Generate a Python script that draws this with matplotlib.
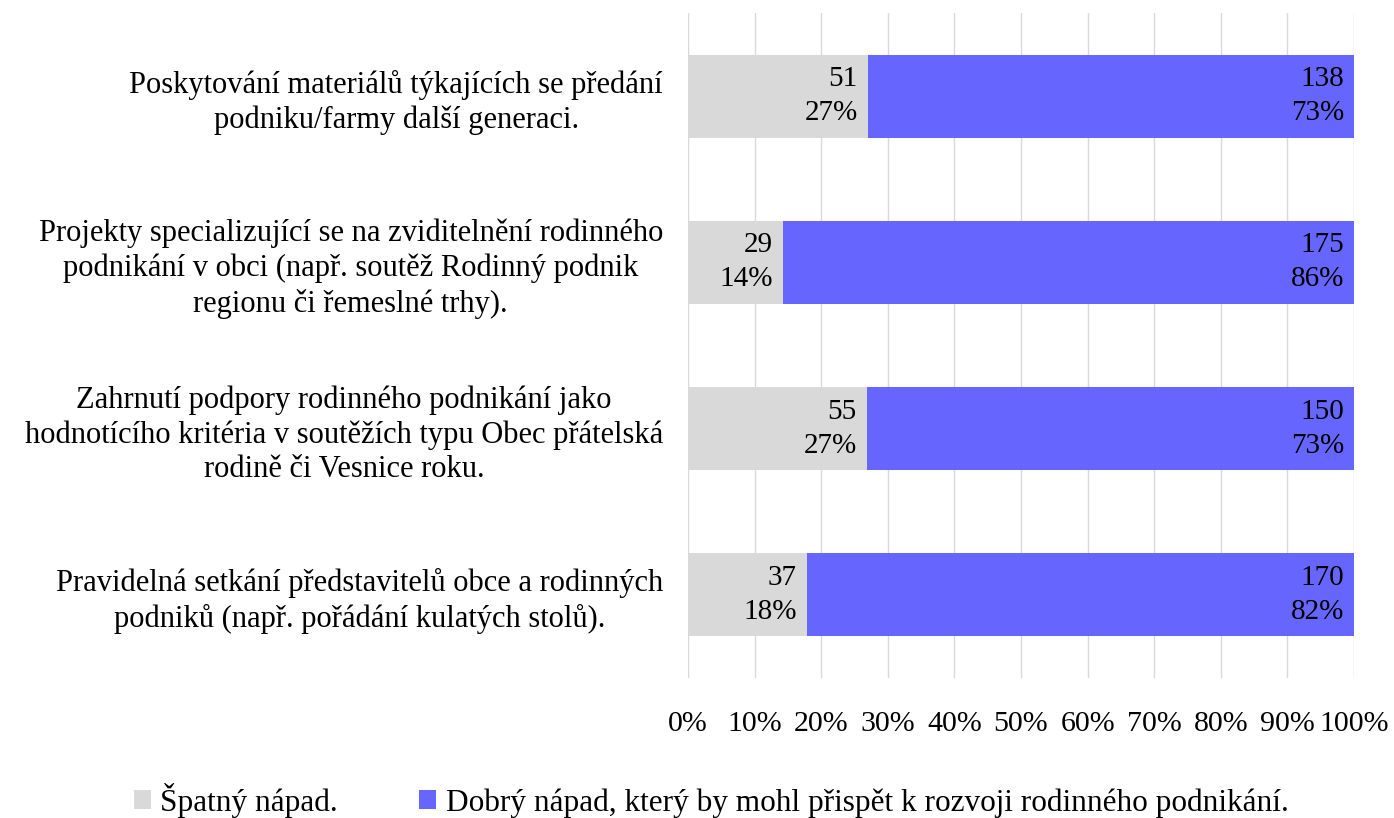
import matplotlib.pyplot as plt
import numpy as np

plt.rcParams['font.family'] = ['Liberation Serif', 'DejaVu Serif']

# categories top to bottom
categories = [
    'Poskytování materiálů týkajících se předání\npodniku/farmy další generaci.',
    'Projekty specializující se na zviditelnění rodinného\npodnikání v obci (např. soutěž Rodinný podnik\nregionu či řemeslné trhy).',
    'Zahrnutí podpory rodinného podnikání jako\nhodnotícího kritéria v soutěžích typu Obec přátelská\nrodině či Vesnice roku.',
    'Pravidelná setkání představitelů obce a rodinných\npodniků (např. pořádání kulatých stolů).',
]
bad = np.array([51, 29, 55, 37])
good = np.array([138, 175, 150, 170])
series_names = ['Špatný nápad.',
                'Dobrý nápad, který by mohl přispět k rozvoji rodinného podnikání.']
colors = ['#D9D9D9', '#6666FF']

total = bad + good
bad_share = bad / total
good_share = good / total

fig = plt.figure(figsize=(13.94, 8.18), dpi=100)
ax = fig.add_axes([0.4935, 0.1711, 0.4778, 0.8129])

y = np.arange(len(categories))
h = 0.5
ax.barh(y, bad_share, height=h, color=colors[0], label=series_names[0], zorder=2)
ax.barh(y, good_share, left=bad_share, height=h, color=colors[1],
        label=series_names[1], zorder=2)

fs = 21
for i in range(len(categories)):
    ax.text(bad_share[i] - 0.015, y[i], f'{bad[i]}\n{bad_share[i]:.0%}',
            ha='right', va='center', fontsize=fs, linespacing=1.4, zorder=3)
    ax.text(1 - 0.015, y[i], f'{good[i]}\n{good_share[i]:.0%}',
            ha='right', va='center', fontsize=fs, linespacing=1.4, zorder=3)

ax.set_xlim(0, 1)
ax.set_ylim(len(categories) - 0.5, -0.5)
ax.set_xticks(np.linspace(0, 1, 11))
ax.set_xticklabels([f'{int(round(v * 100))}%' for v in np.linspace(0, 1, 11)],
                   fontsize=21.5)
ax.set_yticks(y)
ax.set_yticklabels(categories, fontsize=22, multialignment='center',
                   linespacing=1.25)
ax.tick_params(axis='both', length=0)
ax.tick_params(axis='x', pad=24)
ax.tick_params(axis='y', pad=18)
ax.grid(axis='x', color='#D9D9D9', linewidth=1, zorder=0)
for s in ax.spines.values():
    s.set_visible(False)

fig.legend(loc='center', bbox_to_anchor=(0.51, 0.022), ncol=2, frameon=False,
           fontsize=22.5, handlelength=0.55, handleheight=0.55, handletextpad=0.3,
           columnspacing=2.6)

fig.savefig('out.png', dpi=100, facecolor='white')
